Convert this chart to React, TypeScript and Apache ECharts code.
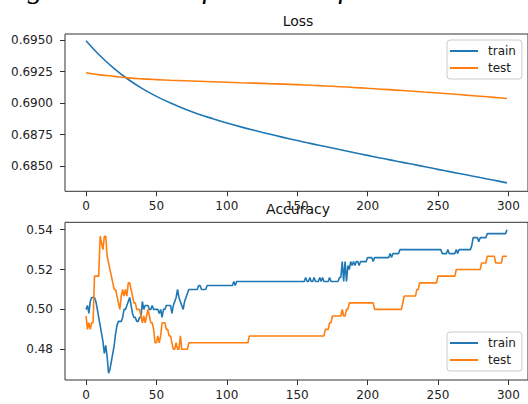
import React, { useEffect, useRef } from "react";
import * as echarts from "echarts";

// ---------- data ----------
const lossEpochs = [0, 10, 20, 30, 40, 50, 60, 70, 80, 90, 100, 110, 120, 130, 140, 150, 160, 170, 180, 190, 200, 210, 220, 230, 240, 250, 260, 270, 280, 290, 299];
const trainLoss = [0.69495, 0.69375, 0.69273, 0.69187, 0.69115, 0.69053, 0.69, 0.68954, 0.68912, 0.68876, 0.68842, 0.68811, 0.68782, 0.68754, 0.68728, 0.68703, 0.68678, 0.68655, 0.68631, 0.68608, 0.68585, 0.68562, 0.68541, 0.68518, 0.68497, 0.68474, 0.68452, 0.68431, 0.68409, 0.68387, 0.68367];
const testLoss = [0.6924, 0.69224, 0.69212, 0.692, 0.69192, 0.69186, 0.69181, 0.69177, 0.69173, 0.69169, 0.69165, 0.69161, 0.69158, 0.69154, 0.6915, 0.69146, 0.69141, 0.69136, 0.6913, 0.69124, 0.69117, 0.6911, 0.69103, 0.69096, 0.69088, 0.6908, 0.69072, 0.69063, 0.69054, 0.69045, 0.69036];

// accuracy: epochs where the value changes, and the value held from that epoch on
const trainAccEpochs = [0, 1, 2, 3, 4, 7, 8, 9, 10, 11, 12, 13, 14, 15, 16, 17, 18, 19, 20, 21, 22, 23, 26, 27, 29, 30, 31, 32, 33, 34, 36, 38, 40, 41, 42, 45, 47, 48, 52, 53, 54, 55, 57, 61, 62, 63, 64, 65, 66, 67, 68, 69, 70, 71, 72, 73, 80, 82, 86, 105, 106, 107, 156, 157, 159, 160, 162, 163, 166, 167, 168, 169, 173, 174, 180, 182, 183, 184, 185, 186, 187, 188, 189, 190, 191, 192, 194, 195, 200, 204, 205, 216, 217, 218, 223, 253, 257, 258, 263, 264, 265, 274, 275, 279, 280, 285, 299];
const trainAccValues = [0.5, 0.502, 0.498, 0.504, 0.506, 0.504, 0.5, 0.496, 0.492, 0.488, 0.484, 0.478, 0.482, 0.476, 0.468, 0.47, 0.474, 0.478, 0.482, 0.488, 0.492, 0.494, 0.496, 0.5, 0.502, 0.504, 0.506, 0.502, 0.498, 0.496, 0.494, 0.496, 0.504, 0.5, 0.502, 0.5, 0.502, 0.5, 0.498, 0.5, 0.496, 0.5, 0.502, 0.498, 0.502, 0.504, 0.506, 0.51, 0.506, 0.504, 0.502, 0.5, 0.504, 0.506, 0.508, 0.51, 0.512, 0.51, 0.512, 0.514, 0.512, 0.514, 0.516, 0.514, 0.516, 0.514, 0.516, 0.514, 0.516, 0.514, 0.516, 0.514, 0.516, 0.514, 0.516, 0.524, 0.514, 0.524, 0.514, 0.522, 0.52, 0.524, 0.522, 0.524, 0.522, 0.524, 0.522, 0.524, 0.526, 0.524, 0.526, 0.528, 0.526, 0.528, 0.53, 0.528, 0.53, 0.528, 0.53, 0.528, 0.53, 0.532, 0.536, 0.534, 0.536, 0.538, 0.54];
const testAccEpochs = [0, 1, 2, 3, 4, 6, 10, 11, 12, 13, 15, 16, 17, 18, 19, 20, 22, 23, 24, 25, 26, 27, 28, 29, 30, 32, 33, 34, 36, 39, 40, 41, 42, 43, 44, 45, 46, 48, 49, 51, 52, 53, 54, 57, 59, 61, 62, 64, 65, 67, 68, 73, 116, 170, 173, 175, 182, 183, 185, 187, 205, 225, 226, 235, 237, 250, 263, 281, 285, 291, 296];
const testAccValues = [0.4967, 0.49, 0.4933, 0.49, 0.4933, 0.5167, 0.5367, 0.5333, 0.53, 0.5367, 0.5267, 0.5233, 0.52, 0.5167, 0.5133, 0.51, 0.5067, 0.5033, 0.5, 0.5067, 0.51, 0.5067, 0.51, 0.5067, 0.5133, 0.51, 0.5067, 0.5033, 0.5, 0.4967, 0.4933, 0.4967, 0.4933, 0.4967, 0.5, 0.4967, 0.4933, 0.49, 0.4833, 0.4867, 0.4833, 0.4867, 0.4933, 0.49, 0.4867, 0.4833, 0.48, 0.4833, 0.48, 0.4867, 0.48, 0.4833, 0.4867, 0.49, 0.4933, 0.4967, 0.5, 0.4967, 0.5, 0.5033, 0.5, 0.5033, 0.5067, 0.51, 0.5133, 0.5167, 0.52, 0.5233, 0.5267, 0.5233, 0.5267];
const lastEpoch = 299;

const xTicks = [0, 50, 100, 150, 200, 250, 300];
const lossTicks = [0.685, 0.6875, 0.69, 0.6925, 0.695];
const accTicks = [0.48, 0.5, 0.52, 0.54];
const seriesNames = ["train", "test"];
const seriesColors = ["#1f77b4", "#ff7f0e"];
const panelTitles = ["Loss", "Accuracy"];
const caption = "Figure 6.10: Performance of model CNN.";

// hold each read value until the next change point
function holdSteps(epochs: number[], values: number[], last: number): [number, number][] {
  const out: [number, number][] = [];
  let j = 0;
  for (let e = 0; e <= last; e++) {
    while (j + 1 < epochs.length && epochs[j + 1] <= e) j++;
    out.push([e, values[j]]);
  }
  return out;
}

const FONT = "DejaVu Sans";
const TEXT = "#222";
const SPINE = "#333";

function makeX(gridIndex: number) {
  return {
    type: "value",
    gridIndex,
    min: -14.95,
    max: 313.95,
    axisLine: { show: false, onZero: false },
    axisTick: { show: true, customValues: xTicks, length: 5, lineStyle: { color: SPINE, width: 1 } },
    axisLabel: { customValues: xTicks, margin: 9, fontSize: 12, color: TEXT, fontFamily: FONT },
    splitLine: { show: false },
  };
}

function makeY(gridIndex: number, min: number, max: number, ticks: number[], digits: number) {
  return {
    type: "value",
    gridIndex,
    min,
    max,
    axisLine: { show: false, onZero: false },
    axisTick: { show: true, customValues: ticks, length: 5, lineStyle: { color: SPINE, width: 1 } },
    axisLabel: {
      customValues: ticks,
      margin: 12,
      fontSize: 12,
      color: TEXT,
      fontFamily: FONT,
      formatter: (v: number) => v.toFixed(digits),
    },
    splitLine: { show: false },
  };
}

function makeLegend(top: number) {
  return {
    data: seriesNames,
    left: 447,
    top,
    orient: "vertical",
    icon: "rect",
    itemWidth: 28,
    itemHeight: 2,
    itemGap: 5,
    padding: [5, 6, 5, 3],
    selectedMode: false,
    backgroundColor: "rgba(255,255,255,0.8)",
    borderColor: "#cccccc",
    borderWidth: 1,
    borderRadius: 3,
    textStyle: { fontSize: 12, color: TEXT, fontFamily: FONT, padding: [0, 0, 0, 5] },
  };
}

function line(name: string, idx: number, data: [number, number][], smooth: boolean, color: string) {
  return {
    type: "line",
    name,
    xAxisIndex: idx,
    yAxisIndex: idx,
    data,
    smooth: smooth ? 0.4 : false,
    showSymbol: false,
    symbol: "none",
    lineStyle: { width: 1.6, color },
    itemStyle: { color },
  };
}

export default function App() {
  const ref = useRef<HTMLDivElement>(null);

  useEffect(() => {
    if (!ref.current) return;
    const chart = echarts.init(ref.current, null, { renderer: "svg" });

    const trainLossData = lossEpochs.map((e, i) => [e, trainLoss[i]] as [number, number]);
    const testLossData = lossEpochs.map((e, i) => [e, testLoss[i]] as [number, number]);
    const trainAccData = holdSteps(trainAccEpochs, trainAccValues, lastEpoch);
    const testAccData = holdSteps(testAccEpochs, testAccValues, lastEpoch);

    const gridStyle = { show: true, borderColor: SPINE, borderWidth: 1, backgroundColor: "transparent" };

    chart.setOption({
      animation: false,
      backgroundColor: "#ffffff",
      textStyle: { fontFamily: FONT },
      grid: [
        { ...gridStyle, left: 65, top: 34, width: 466, height: 157.3 },
        { ...gridStyle, left: 65, top: 222.3, width: 466, height: 157.7 },
      ],
      xAxis: [makeX(0), makeX(1)],
      yAxis: [
        makeY(0, 0.683, 0.69548, lossTicks, 4),
        makeY(1, 0.4646, 0.5437, accTicks, 2),
      ],
      legend: [makeLegend(40), makeLegend(332)],
      graphic: [
        {
          type: "text",
          x: 1,
          y: -12.5,
          style: { text: caption, font: 'italic 30px "Liberation Serif"', fill: "#000", align: "left", verticalAlign: "middle" },
        },
        {
          type: "text",
          x: 298,
          y: 20.7,
          style: { text: panelTitles[0], font: `14px "${FONT}"`, fill: "#111", align: "center", verticalAlign: "middle" },
        },
        {
          type: "text",
          x: 298,
          y: 209,
          style: { text: panelTitles[1], font: `14px "${FONT}"`, fill: "#111", align: "center", verticalAlign: "middle" },
        },
      ],
      series: [
        line(seriesNames[0], 0, trainLossData, true, seriesColors[0]),
        line(seriesNames[1], 0, testLossData, true, seriesColors[1]),
        line(seriesNames[0], 1, trainAccData, false, seriesColors[0]),
        line(seriesNames[1], 1, testAccData, false, seriesColors[1]),
      ],
    });

    return () => chart.dispose();
  }, []);

  return (
    <div
      ref={ref}
      style={{ position: "absolute", left: 0, top: 0, width: 528, height: 404, background: "#fff" }}
    />
  );
}
